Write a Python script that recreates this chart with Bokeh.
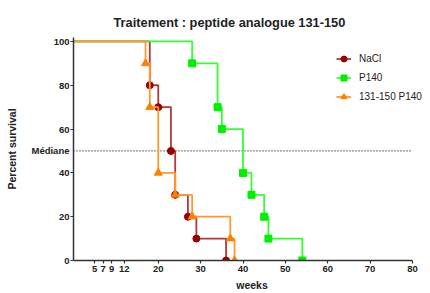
from bokeh.plotting import figure
from bokeh.models import FixedTicker, Legend, LegendItem, Range1d, LinearAxis
from bokeh.embed import file_html
from bokeh.resources import INLINE

# ---- data ----
weeks_nacl = [0, 18, 20, 23, 24, 27, 29, 36]
surv_nacl = [100, 80, 70, 50, 30, 20, 10, 0]
weeks_p140 = [0, 28, 34, 35, 40, 42, 45, 46, 54]
surv_p140 = [100, 90, 70, 60, 40, 30, 20, 10, 0]
weeks_ana = [0, 17, 18, 20, 24, 28, 37, 38]
surv_ana = [100, 90, 70, 40, 30, 20, 10, 0]
x_ticks = [5, 7, 9, 12, 20, 30, 40, 50, 60, 70, 80]
y_ticks = [0, 20, 40, 60, 80, 100]
median = 50

FONT = "Liberation Sans"
TXT = "#222222"

x_max = x_ticks[-1]
p = figure(width=430, height=293, x_range=Range1d(0, x_max * 357 / 339), y_range=Range1d(0, 101.8),
           output_backend="svg", toolbar_location=None,
           min_border_left=73, min_border_right=0, min_border_top=37, min_border_bottom=32)

p.title.text = "Traitement : peptide analogue 131-150"
p.title.text_font = FONT
p.title.text_font_size = "12.8px"
p.title.text_font_style = "bold"
p.title.text_color = TXT
p.title.align = "left"
p.title.offset = 40
p.title.standoff = 16

p.grid.visible = False
p.outline_line_color = None


def style(ax):
    ax.axis_line_width = 1.5
    ax.axis_line_color = "#333333"
    ax.major_tick_line_color = "#333333"
    ax.major_tick_line_width = 1.2
    ax.major_tick_out = 3
    ax.major_tick_in = 0
    ax.minor_tick_line_color = None
    ax.major_label_text_font = FONT
    ax.major_label_text_font_size = "9.5px"
    ax.major_label_text_font_style = "bold"
    ax.major_label_text_color = TXT
    ax.major_label_standoff = 2


style(p.xaxis[0])
p.xaxis.ticker = FixedTicker(ticks=x_ticks)
p.xaxis.bounds = (0, x_max)
p.xaxis.axis_label = "weeks"
p.xaxis.axis_label_text_font = FONT
p.xaxis.axis_label_text_font_size = "10.5px"
p.xaxis.axis_label_text_font_style = "bold"
p.xaxis.axis_label_text_color = TXT
p.xaxis.axis_label_standoff = 4

# inner y axis: line and ticks only
yb = p.yaxis[0]
style(yb)
yb.ticker = FixedTicker(ticks=y_ticks)
yb.major_label_text_font_size = "0px"
yb.major_label_text_alpha = 0
yb.major_label_standoff = 0

# outer y axis: labels (including the median label) and axis title
ya = LinearAxis(ticker=FixedTicker(ticks=y_ticks + [median]),
                major_label_overrides={median: "Médiane"})
style(ya)
ya.axis_line_color = None
ya.major_tick_line_color = None
ya.major_tick_out = 0
ya.major_label_standoff = 1
ya.axis_label = "Percent survival"
ya.axis_label_text_font = FONT
ya.axis_label_text_font_size = "10.5px"
ya.axis_label_text_font_style = "bold"
ya.axis_label_text_color = TXT
ya.axis_label_standoff = 10
p.add_layout(ya, "left")

# median dotted line
p.line([0, x_max], [median, median], line_dash="1 2", line_color=TXT, line_width=1.3)

series = [
    ("NaCl", weeks_nacl, surv_nacl, "#b03a3a", "#990000", "circle", 7),
    ("P140", weeks_p140, surv_p140, "#33ff33", "#00ee00", "square", 7),
    ("131-150 P140", weeks_ana, surv_ana, "#ff9933", "#ff8000", "triangle", 8),
]
items = []
for name, xs, ys, lc, mc, mk, sz in series:
    ln = p.step(xs, ys, mode="after", line_color=lc, line_width=1.8)
    sc = p.scatter(xs[1:], ys[1:], marker=mk, size=sz, fill_color=mc, line_color=mc)
    items.append(LegendItem(label=name, renderers=[ln, sc]))

legend = Legend(items=items, location=(263, 154), border_line_color=None,
                background_fill_alpha=0, padding=0, margin=0, spacing=0,
                label_height=19, glyph_height=19, glyph_width=15, label_standoff=8,
                label_text_font=FONT, label_text_font_size="10px", label_text_color=TXT)
p.add_layout(legend)

open("out.html", "w").write(file_html(p, INLINE))
